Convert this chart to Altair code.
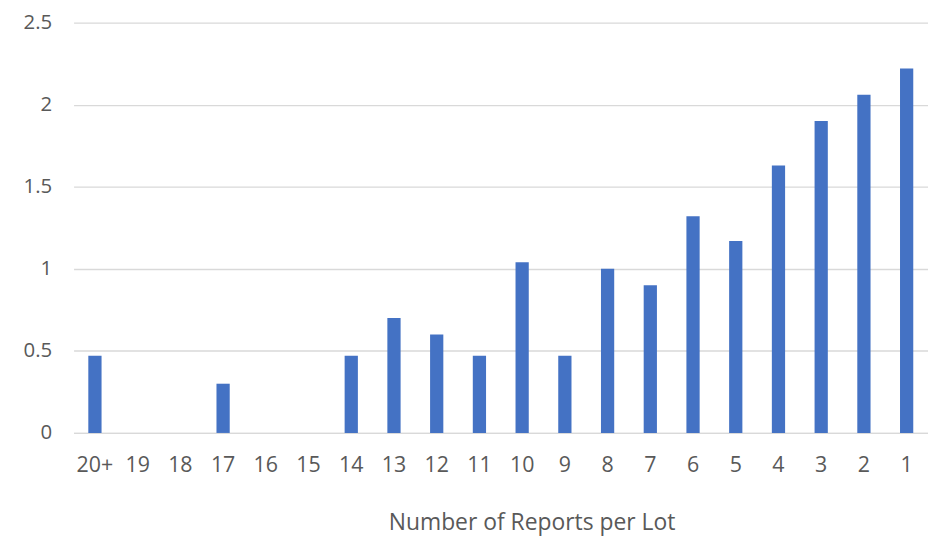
import altair as alt
import pandas as pd

categories = ["20+", "19", "18", "17", "16", "15", "14", "13", "12", "11",
              "10", "9", "8", "7", "6", "5", "4", "3", "2", "1"]
values = [0.47, 0, 0, 0.30, 0, 0, 0.47, 0.70, 0.60, 0.47,
          1.04, 0.47, 1.00, 0.90, 1.32, 1.17, 1.63, 1.90, 2.06, 2.22]
y_ticks = [0, 0.5, 1, 1.5, 2, 2.5]

df = pd.DataFrame({"cat": categories, "val": values})

FONT = "Open Sans"
GRAY = "#595959"

chart = alt.Chart(df).mark_bar(color="#4472C4").encode(
    x=alt.X("cat:N", sort=categories,
            scale=alt.Scale(paddingInner=0.69, paddingOuter=0.345),
            axis=alt.Axis(title="Number of Reports per Lot", labelAngle=0,
                          ticks=False, domain=True, domainColor="#d9d9d9", domainWidth=1.3,
                          labelFont=FONT, labelFontSize=21.5, labelColor=GRAY,
                          labelPadding=22, labelBaseline="top",
                          titleFont=FONT, titleFontSize=23, titleColor=GRAY,
                          titleFontWeight="normal", titleX=461, titleY=97,
                          titleAlign="center", titleBaseline="alphabetic",
                          grid=False)),
    y=alt.Y("val:Q", scale=alt.Scale(domain=[0, 2.5], nice=False),
            axis=alt.Axis(title=None, values=y_ticks, format="~g", ticks=False,
                          domain=False, grid=True, gridColor="#d9d9d9", gridWidth=1.3,
                          labelFont=FONT, labelFontSize=20.5, labelColor=GRAY,
                          labelPadding=22)),
).properties(
    width=860, height=413,
    autosize=alt.AutoSizeParams(type="none"),
    padding={"left": 66, "top": 13, "right": 0, "bottom": 102},
).configure_view(stroke=None)

chart.save("out.html", embed_options={"renderer": "svg", "actions": False})
